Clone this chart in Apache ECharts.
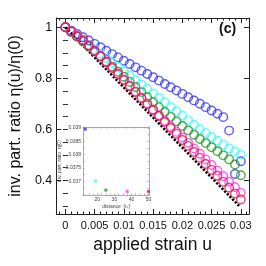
<!DOCTYPE html>
<html><head><meta charset="utf-8">
<script src="https://cdn.jsdelivr.net/npm/echarts@6/dist/echarts.min.js"></script>
<style>html,body{margin:0;padding:0;background:#fff}#c{width:266px;height:266px}</style>
</head><body><div id="c"></div>
<script>
// ---- data ----
const strain = [0,0.001,0.002,0.003,0.004,0.005,0.006,0.007,0.008,0.009,0.010,0.011,0.012,0.013,0.014,0.015,0.016,0.017,0.018,0.019,0.020,0.021,0.022,0.023,0.024,0.025,0.026,0.027,0.028,0.029,0.030];
const blueVals = [1.000,0.987,0.974,0.961,0.948,0.935,0.922,0.908,0.895,0.882,0.869,0.856,0.843,0.830,0.817,0.804,0.791,0.778,0.765,0.752,0.739,0.726,0.713,0.700,0.687,0.674,0.661,0.648,0.595,0.425,0.475];
const cyanVals = [1.000,0.983,0.966,0.948,0.931,0.914,0.896,0.879,0.862,0.844,0.827,0.810,0.792,0.775,0.758,0.740,0.723,0.705,0.688,0.670,0.653,0.635,0.618,0.600,0.585,0.570,0.555,0.540,0.525,0.512,0.500];
const greenVals = [1.000,0.982,0.963,0.944,0.925,0.906,0.886,0.866,0.846,0.826,0.806,0.786,0.766,0.746,0.726,0.706,0.687,0.668,0.649,0.631,0.613,0.596,0.579,0.562,0.546,0.530,0.514,0.498,0.482,0.462,0.420];
const magentaVals = [1.000,0.984,0.967,0.950,0.930,0.909,0.888,0.865,0.842,0.818,0.795,0.771,0.748,0.724,0.701,0.678,0.655,0.633,0.611,0.590,0.568,0.547,0.525,0.504,0.482,0.460,0.438,0.416,0.394,0.373,0.351];
const redVals = [1.000,0.983,0.965,0.948,0.928,0.907,0.886,0.863,0.840,0.816,0.793,0.769,0.746,0.722,0.699,0.676,0.652,0.629,0.605,0.582,0.558,0.535,0.511,0.488,0.464,0.441,0.418,0.394,0.371,0.348,0.325];
const blackLineX = [0, 0.0297];
const blackLineY = [1.0, 0.30];
const insetDistance = [13, 19, 25, 37.5, 50];
const insetIpr = [0.03896, 0.03701, 0.03667, 0.03662, 0.03662];
const xTickLabels = [0, 0.005, 0.01, 0.015, 0.02, 0.025, 0.03];
const yTickLabels = [0.4, 0.6, 0.8, 1.0];
const insetXTicks = [20, 30, 40, 50];
const insetYTicks = [0.037, 0.0375, 0.038, 0.0385, 0.039];

// ---- helpers ----
const colors = ['#3434ff', '#33ffff', '#229a22', '#ff33ff', '#f0143c'];
const seriesVals = [blueVals, cyanVals, greenVals, magentaVals, redVals];
function range(a, b, s) { const r = []; for (let v = a; v <= b + s / 2; v += s) r.push(+v.toFixed(6)); return r; }
const xMinor = range(-0.001, 0.031, 0.001);
const yMinor = range(0.3, 1.0, 0.05);
const fontMain = '"Liberation Sans", Arial, sans-serif';

const X = { min: -0.00156, max: 0.0314 };
const Y = { min: 0.268, max: 1.0365 };
const IX = { min: 11.6, max: 50.3 };
const IY = { min: 0.036486, max: 0.03904 };

function xAx(grid, pos, lim, opts) {
  return Object.assign({
    type: 'value', gridIndex: grid, position: pos, min: lim.min, max: lim.max,
    splitLine: { show: false },
    axisLine: { show: false },
    axisLabel: { show: false },
    axisTick: { show: false }
  }, opts);
}
const tickStyle = { color: '#222', width: 1 };
const insetTick = { color: '#888', width: 0.6 };

const xAxes = [
  xAx(0, 'bottom', X, {
    axisLine: { show: true, onZero: false, lineStyle: { color: '#222', width: 1 } },
    axisLabel: { show: true, customValues: xTickLabels, fontSize: 11, fontFamily: fontMain, color: '#111', margin: 6,
      formatter: v => String(+v.toFixed(3)) },
    axisTick: { show: true, inside: true, length: 5, customValues: xTickLabels, lineStyle: tickStyle },
    name: 'applied strain u', nameLocation: 'middle', nameGap: 21,
    nameTextStyle: { fontSize: 17.5, fontFamily: fontMain, color: '#111' }
  }),
  xAx(0, 'bottom', X, { axisTick: { show: true, inside: true, length: 2.5, customValues: xMinor, lineStyle: tickStyle } }),
  xAx(0, 'top', X, {
    axisLine: { show: true, onZero: false, lineStyle: { color: '#222', width: 1 } },
    axisTick: { show: true, inside: true, length: 5, customValues: xTickLabels, lineStyle: tickStyle } }),
  xAx(0, 'top', X, { axisTick: { show: true, inside: true, length: 2.5, customValues: xMinor, lineStyle: tickStyle } }),
  xAx(1, 'bottom', IX, {
    axisLine: { show: true, onZero: false, lineStyle: { color: '#888', width: 0.7 } },
    axisLabel: { show: true, customValues: insetXTicks, fontSize: 5, fontFamily: fontMain, color: '#444', margin: 2 },
    axisTick: { show: true, inside: true, length: 1.5, customValues: range(15, 50, 2.5), lineStyle: insetTick },
    name: 'distance  [r{s|c}]', nameLocation: 'middle', nameGap: 9,
    nameTextStyle: { fontSize: 5, fontFamily: fontMain, color: '#444', rich: { s: { fontSize: 3.5, verticalAlign: 'bottom', color: '#444' } } }
  }),
  xAx(1, 'top', IX, {
    axisLine: { show: true, onZero: false, lineStyle: { color: '#888', width: 0.7 } },
    axisTick: { show: true, inside: true, length: 1.5, customValues: range(15, 50, 2.5), lineStyle: insetTick } })
];

function yAx(grid, pos, lim, opts) {
  return Object.assign({
    type: 'value', gridIndex: grid, position: pos, min: lim.min, max: lim.max,
    splitLine: { show: false }, axisLine: { show: false }, axisLabel: { show: false }, axisTick: { show: false }
  }, opts);
}
const yAxes = [
  yAx(0, 'left', Y, {
    axisLine: { show: true, onZero: false, lineStyle: { color: '#222', width: 1 } },
    axisLabel: { show: true, customValues: yTickLabels, fontSize: 12.5, fontFamily: fontMain, color: '#111', margin: 4,
      formatter: v => String(+v.toFixed(2)) },
    axisTick: { show: true, inside: true, length: 5, customValues: [0.4, 0.6, 0.8, 1.0], lineStyle: tickStyle },
    name: 'inv. part. ratio η(u)/η(0)', nameLocation: 'middle', nameGap: 25,
    nameTextStyle: { fontSize: 16, fontFamily: fontMain, color: '#111' }
  }),
  yAx(0, 'left', Y, { axisTick: { show: true, inside: true, length: 2.5, customValues: yMinor, lineStyle: tickStyle } }),
  yAx(0, 'right', Y, {
    axisLine: { show: true, onZero: false, lineStyle: { color: '#222', width: 1 } },
    axisTick: { show: true, inside: true, length: 5, customValues: [0.4, 0.6, 0.8, 1.0], lineStyle: tickStyle } }),
  yAx(0, 'right', Y, { axisTick: { show: true, inside: true, length: 2.5, customValues: yMinor, lineStyle: tickStyle } }),
  yAx(1, 'left', IY, {
    axisLine: { show: true, onZero: false, lineStyle: { color: '#888', width: 0.7 } },
    axisLabel: { show: true, customValues: insetYTicks, fontSize: 5, fontFamily: fontMain, color: '#444', margin: 2,
      formatter: v => String(+v.toFixed(4)) },
    axisTick: { show: true, inside: true, length: 1.5, customValues: range(0.0365, 0.039, 0.00025), lineStyle: insetTick },
    name: 'inv. part. ratio  η(0)', nameLocation: 'middle', nameGap: 17,
    nameTextStyle: { fontSize: 5, fontFamily: fontMain, color: '#444' }
  }),
  yAx(1, 'right', IY, {
    axisLine: { show: true, onZero: false, lineStyle: { color: '#888', width: 0.7 } },
    axisTick: { show: true, inside: true, length: 1.5, customValues: range(0.0365, 0.039, 0.00025), lineStyle: insetTick } })
];

const series = [];
series.push({
  type: 'line', xAxisIndex: 0, yAxisIndex: 0, silent: true, symbol: 'none', z: 1,
  data: blackLineX.map((x, i) => [x, blackLineY[i]]),
  lineStyle: { color: '#000', width: 2.6, type: [2.2, 1.6], cap: 'butt' }
});
seriesVals.forEach((vals, k) => {
  series.push({
    type: 'scatter', xAxisIndex: 0, yAxisIndex: 0, symbol: 'circle', symbolSize: 8.5, z: 2 + k,
    data: strain.map((u, i) => [u, vals[i]]),
    itemStyle: { color: 'rgba(0,0,0,0)', borderColor: colors[k], borderWidth: 1.4 }
  });
});
series.push({
  type: 'scatter', xAxisIndex: 4, yAxisIndex: 4, symbol: 'rect', symbolSize: 3, z: 10,
  data: insetDistance.map((d, i) => ({ value: [d, insetIpr[i]], itemStyle: { color: colors[i] } }))
});

const chart = echarts.init(document.getElementById('c'), null, { renderer: 'canvas', width: 266, height: 266 });
chart.setOption({
  animation: false,
  backgroundColor: '#fff',
  grid: [
    { left: 53, top: 18, width: 196, height: 196, containLabel: false, show: false },
    { left: 83, top: 127, width: 66, height: 68, show: true, backgroundColor: '#fff', borderWidth: 0 }
  ],
  xAxis: xAxes,
  yAxis: yAxes,
  series: series,
  graphic: [{
    type: 'text', left: 219, top: 22, z: 20,
    style: { text: '(c)', font: 'bold 14px "Liberation Sans", Arial, sans-serif', fill: '#111' }
  }]
});
</script></body></html>
